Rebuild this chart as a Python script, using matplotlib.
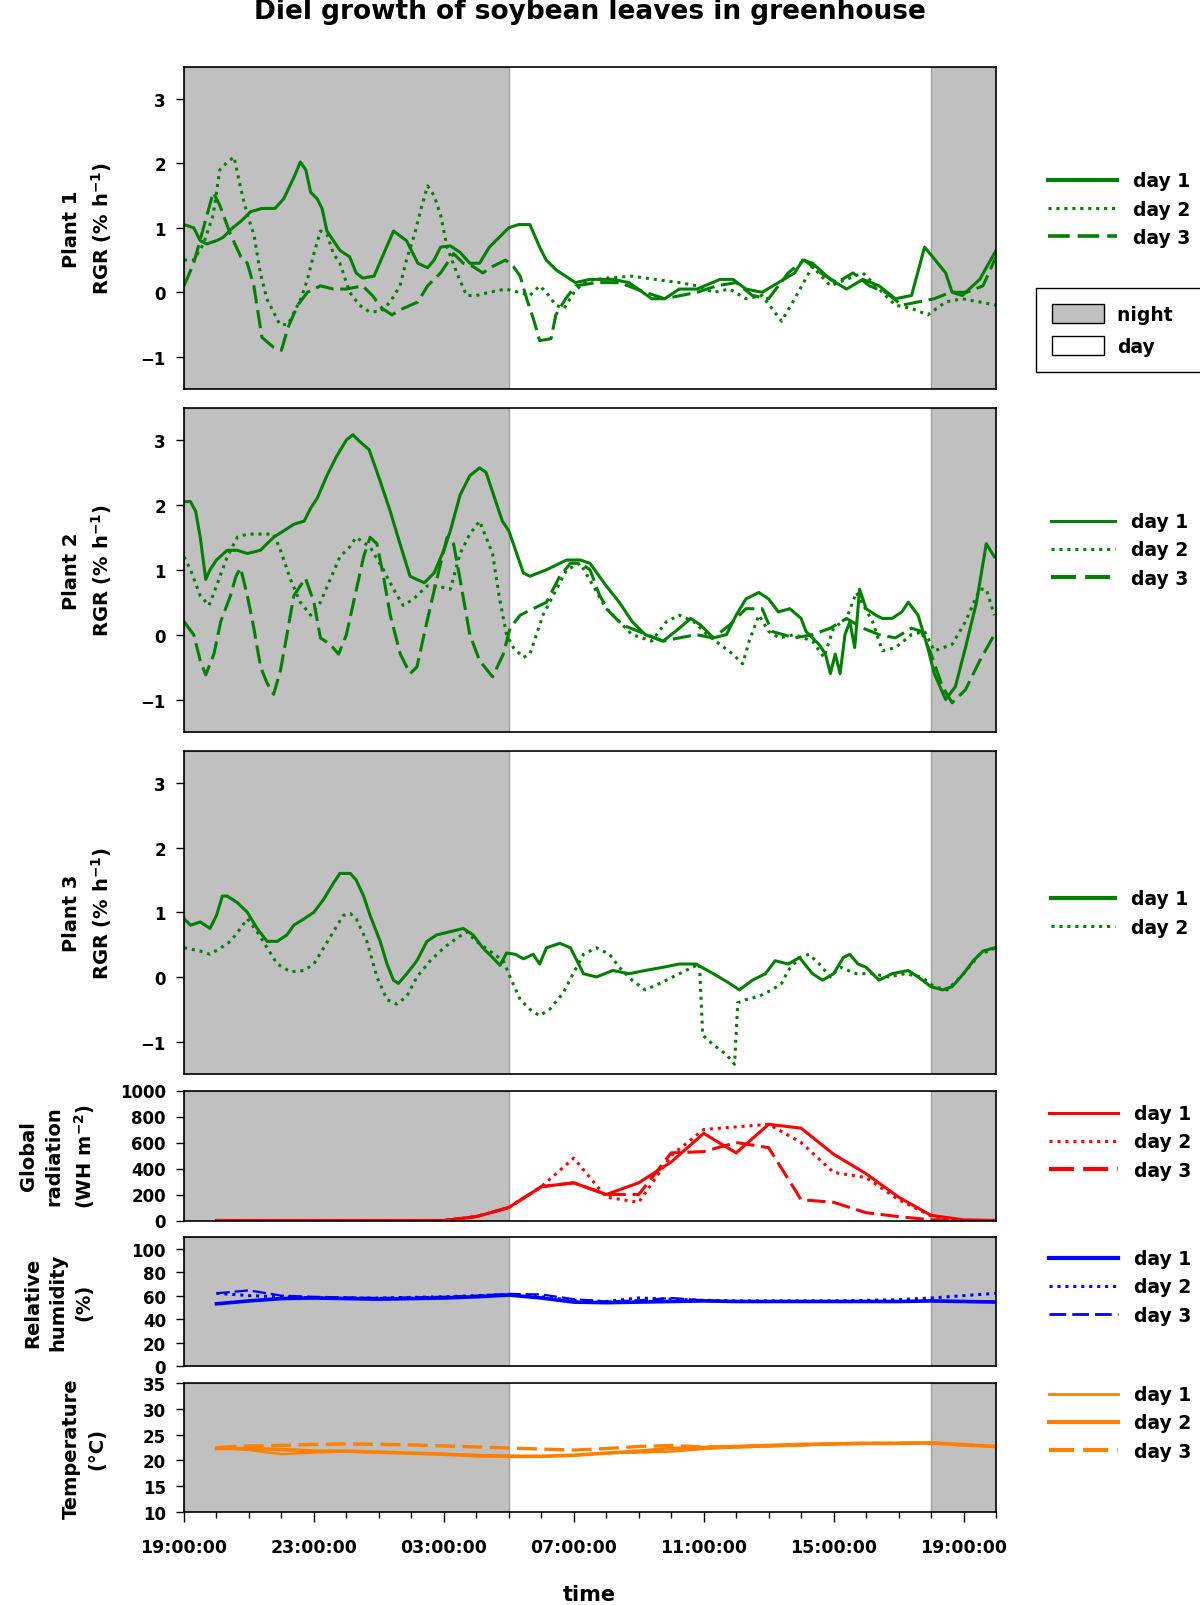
import numpy as np
import matplotlib
matplotlib.use("Agg")
import matplotlib.pyplot as plt
from matplotlib.patches import Patch
from matplotlib.lines import Line2D

# hours after 19:00 of the first evening (0 .. 25 h)
night_spans = [(0, 10), (23, 25)]
tick_hours = [0, 4, 8, 12, 16, 20, 24]
tick_labels = ["19:00:00", "23:00:00", "03:00:00", "07:00:00", "11:00:00", "15:00:00", "19:00:00"]

# ---- RGR, plant 1 : (hour, value)
p1_day1 = [(0, 1.05), (0.3, 1.0), (0.5, 0.8), (0.7, 0.75), (1.0, 0.8), (1.2, 0.85), (1.5, 1.0), (1.75, 1.1),
           (2.05, 1.25), (2.4, 1.3), (2.8, 1.3), (3.07, 1.45), (3.4, 1.8), (3.58, 2.02), (3.75, 1.9), (3.9, 1.55),
           (4.1, 1.45), (4.25, 1.3), (4.4, 0.95), (4.6, 0.8), (4.8, 0.65), (5.1, 0.55), (5.3, 0.3), (5.5, 0.22),
           (5.85, 0.25), (6.15, 0.6), (6.45, 0.95), (6.85, 0.8), (7.2, 0.45), (7.5, 0.38), (7.7, 0.5), (7.9, 0.7),
           (8.2, 0.72), (8.5, 0.62), (8.8, 0.45), (9.1, 0.45), (9.4, 0.7), (9.7, 0.85), (10.0, 1.0), (10.3, 1.05),
           (10.65, 1.05), (10.95, 0.7), (11.15, 0.5), (11.45, 0.35), (11.75, 0.25), (12.05, 0.15), (12.5, 0.2),
           (13.2, 0.2), (13.7, 0.15), (14.4, -0.1), (14.8, -0.1), (15.25, 0.05), (15.8, 0.05), (16.5, 0.2),
           (16.9, 0.2), (17.3, 0.05), (17.8, 0.0), (18.3, 0.15), (18.8, 0.3), (19.05, 0.5), (19.35, 0.45),
           (19.9, 0.2), (20.4, 0.05), (20.9, 0.2), (21.4, 0.1), (21.9, -0.1), (22.4, -0.05), (22.8, 0.7),
           (23.05, 0.55), (23.45, 0.3), (23.65, 0.0), (23.96, -0.05), (24.5, 0.2), (25.0, 0.65)]
p1_day2 = [(0, 0.5), (0.3, 0.5), (0.6, 0.75), (0.9, 1.2), (1.1, 1.9), (1.3, 2.0), (1.54, 2.1), (1.75, 1.6),
           (1.95, 1.2), (2.15, 0.9), (2.35, 0.3), (2.55, -0.1), (2.75, -0.3), (2.95, -0.5), (3.2, -0.5),
           (3.4, -0.3), (3.6, -0.1), (3.8, 0.2), (4.0, 0.6), (4.2, 0.95), (4.4, 0.9), (4.6, 0.6), (4.8, 0.45),
           (5.1, 0.0), (5.4, -0.2), (5.7, -0.3), (6.05, -0.3), (6.35, -0.15), (6.65, 0.1), (6.85, 0.5), (7.1, 0.9),
           (7.3, 1.3), (7.5, 1.65), (7.7, 1.5), (7.9, 1.2), (8.1, 0.7), (8.4, 0.3), (8.7, -0.05), (9.0, -0.05),
           (9.4, 0.0), (9.9, 0.05), (10.3, 0.0), (10.65, -0.05), (10.95, 0.1), (11.15, 0.0), (11.45, -0.2),
           (11.7, -0.25), (12.05, 0.03), (12.4, 0.18), (13.0, 0.22), (13.8, 0.25), (14.5, 0.2), (15.25, 0.15),
           (15.8, 0.1), (16.3, 0.0), (16.8, 0.05), (17.3, -0.1), (17.8, -0.05), (18.4, -0.45), (18.8, -0.1),
           (19.35, 0.4), (19.9, 0.1), (20.4, 0.2), (20.9, 0.3), (21.4, 0.05), (21.9, -0.2), (22.4, -0.25),
           (22.9, -0.35), (23.45, -0.15), (23.96, -0.1), (24.5, -0.15), (25.0, -0.2)]
p1_day3 = [(0, 0.1), (0.3, 0.45), (0.6, 1.0), (0.9, 1.55), (1.1, 1.35), (1.43, 0.9), (1.75, 0.55), (1.95, 0.45),
           (2.15, 0.1), (2.4, -0.7), (2.75, -0.85), (3.0, -0.9), (3.2, -0.55), (3.5, -0.2), (3.8, 0.0), (4.2, 0.1),
           (4.6, 0.05), (5.0, 0.05), (5.5, 0.1), (5.8, -0.05), (6.1, -0.25), (6.4, -0.35), (6.75, -0.25),
           (7.2, -0.15), (7.5, 0.1), (7.9, 0.3), (8.3, 0.6), (8.6, 0.45), (8.9, 0.4), (9.2, 0.3), (9.5, 0.4),
           (9.9, 0.5), (10.14, 0.4), (10.35, 0.25), (10.55, -0.1), (10.75, -0.4), (10.95, -0.75), (11.3, -0.72),
           (11.45, -0.35), (11.75, -0.1), (12.05, 0.1), (12.7, 0.15), (13.4, 0.15), (14.2, 0.0), (14.8, -0.1),
           (15.3, -0.05), (15.8, 0.0), (16.4, 0.1), (17.0, 0.15), (17.5, -0.05), (18.0, -0.1), (18.6, 0.3),
           (19.1, 0.5), (19.6, 0.3), (20.1, 0.15), (20.6, 0.3), (21.1, 0.1), (21.6, 0.0), (22.1, -0.2),
           (22.6, -0.15), (23.1, -0.1), (23.6, 0.0), (24.1, 0.0), (24.6, 0.1), (25.0, 0.55)]

# ---- RGR, plant 2
p2_day1 = [(0, 2.05), (0.2, 2.05), (0.36, 1.9), (0.5, 1.5), (0.67, 0.85), (0.8, 1.0), (1.0, 1.15), (1.33, 1.3),
           (1.64, 1.3), (1.95, 1.25), (2.35, 1.3), (2.76, 1.5), (3.07, 1.6), (3.38, 1.7), (3.7, 1.75), (3.9, 1.95),
           (4.1, 2.1), (4.4, 2.45), (4.7, 2.75), (5.0, 3.0), (5.2, 3.08), (5.4, 2.98), (5.7, 2.85), (6.05, 2.35),
           (6.35, 1.9), (6.65, 1.4), (6.96, 0.9), (7.17, 0.85), (7.4, 0.8), (7.7, 0.95), (8.0, 1.3), (8.2, 1.6),
           (8.5, 2.15), (8.8, 2.45), (9.1, 2.57), (9.3, 2.5), (9.5, 2.2), (9.8, 1.75), (10.0, 1.6), (10.14, 1.4),
           (10.45, 0.95), (10.65, 0.9), (11.16, 1.0), (11.78, 1.15), (12.2, 1.15), (12.5, 1.1), (13.0, 0.75),
           (13.4, 0.5), (13.8, 0.2), (14.2, 0.0), (14.75, -0.1), (15.25, 0.1), (15.6, 0.25), (15.9, 0.15),
           (16.3, -0.05), (16.7, 0.0), (17.0, 0.3), (17.3, 0.55), (17.7, 0.65), (18.0, 0.55), (18.3, 0.35),
           (18.65, 0.4), (19.0, 0.25), (19.15, 0.05), (19.35, -0.05), (19.55, -0.15), (19.75, -0.3), (19.9, -0.6),
           (20.05, -0.3), (20.2, -0.6), (20.35, 0.0), (20.5, 0.2), (20.65, -0.2), (20.8, 0.7), (21.0, 0.4),
           (21.3, 0.3), (21.5, 0.25), (21.8, 0.25), (22.1, 0.35), (22.3, 0.5), (22.6, 0.3), (22.9, -0.2),
           (23.1, -0.6), (23.45, -1.0), (23.75, -0.8), (24.06, -0.2), (24.4, 0.5), (24.7, 1.4), (24.95, 1.2)]
p2_day2 = [(0, 1.2), (0.2, 1.0), (0.5, 0.6), (0.77, 0.45), (1.0, 0.75), (1.33, 1.2), (1.64, 1.5), (1.95, 1.55),
           (2.25, 1.55), (2.76, 1.55), (2.97, 1.3), (3.28, 0.85), (3.58, 0.5), (3.9, 0.3), (4.2, 0.5), (4.5, 0.85),
           (4.8, 1.2), (5.1, 1.35), (5.3, 1.5), (5.73, 1.35), (6.14, 1.0), (6.45, 0.7), (6.75, 0.45), (7.07, 0.55),
           (7.48, 0.75), (7.78, 0.75), (8.2, 0.7), (8.5, 1.25), (8.8, 1.55), (9.1, 1.75), (9.5, 1.25), (9.7, 0.6),
           (9.93, 0.0), (10.14, -0.2), (10.45, -0.35), (10.65, -0.3), (10.85, 0.0), (11.05, 0.3), (11.26, 0.5),
           (11.57, 0.8), (11.78, 1.0), (12.2, 1.1), (12.6, 0.75), (13.0, 0.4), (13.4, 0.2), (13.8, 0.0),
           (14.4, -0.1), (14.85, 0.2), (15.25, 0.3), (15.7, 0.2), (16.1, 0.0), (16.5, -0.15), (16.9, -0.3),
           (17.2, -0.45), (17.4, -0.1), (17.7, 0.3), (18.0, 0.05), (18.33, -0.05), (18.8, 0.0), (19.35, -0.1),
           (19.7, -0.35), (20.0, 0.1), (20.4, 0.25), (20.7, 0.65), (21.2, 0.2), (21.5, -0.25), (21.9, -0.2),
           (22.4, 0.0), (22.8, 0.05), (23.1, -0.25), (23.65, -0.15), (24.06, 0.2), (24.5, 0.7), (24.7, 0.7),
           (24.95, 0.3)]
p2_day3 = [(0, 0.2), (0.3, 0.0), (0.5, -0.4), (0.67, -0.62), (0.92, -0.3), (1.13, 0.2), (1.43, 0.6), (1.6, 0.9),
           (1.74, 1.03), (1.95, 0.6), (2.15, 0.1), (2.36, -0.5), (2.56, -0.75), (2.76, -0.92), (2.97, -0.55),
           (3.17, 0.0), (3.38, 0.6), (3.58, 0.75), (3.74, 0.87), (4.0, 0.5), (4.2, -0.05), (4.5, -0.15),
           (4.76, -0.3), (5.0, 0.0), (5.22, 0.5), (5.53, 1.2), (5.73, 1.5), (5.94, 1.4), (6.14, 0.9), (6.35, 0.3),
           (6.66, -0.3), (6.96, -0.6), (7.17, -0.5), (7.48, 0.2), (7.78, 0.85), (8.1, 1.5), (8.3, 1.4), (8.5, 0.85),
           (8.8, 0.0), (9.1, -0.4), (9.5, -0.65), (9.83, -0.3), (10.04, 0.1), (10.35, 0.3), (10.75, 0.4),
           (11.16, 0.5), (11.57, 0.9), (11.9, 1.1), (12.2, 1.1), (12.5, 1.0), (12.8, 0.6), (13.1, 0.35),
           (13.5, 0.15), (14.0, 0.05), (14.75, -0.1), (15.25, -0.05), (15.76, 0.0), (16.3, -0.05), (16.8, 0.15),
           (17.3, 0.4), (17.8, 0.4), (18.1, 0.05), (18.8, -0.05), (19.35, 0.0), (19.9, 0.1), (20.4, 0.25),
           (20.9, 0.1), (21.4, 0.0), (21.9, -0.05), (22.4, 0.1), (22.7, 0.05), (23.0, -0.3), (23.35, -0.8),
           (23.65, -1.05), (24.06, -0.85), (24.5, -0.4), (24.95, 0.0)]

# ---- RGR, plant 3
p3_day1 = [(0, 0.9), (0.2, 0.8), (0.5, 0.85), (0.8, 0.75), (1.0, 0.95), (1.18, 1.25), (1.33, 1.25), (1.64, 1.15),
           (1.95, 1.0), (2.25, 0.75), (2.56, 0.55), (2.87, 0.55), (3.17, 0.65), (3.38, 0.8), (3.7, 0.9), (4.0, 1.0),
           (4.3, 1.2), (4.6, 1.45), (4.8, 1.6), (5.12, 1.6), (5.3, 1.5), (5.53, 1.25), (5.73, 0.95), (6.04, 0.55),
           (6.25, 0.2), (6.45, -0.05), (6.6, -0.1), (6.86, 0.05), (7.17, 0.25), (7.48, 0.55), (7.78, 0.65),
           (8.2, 0.7), (8.6, 0.75), (8.9, 0.65), (9.2, 0.45), (9.5, 0.3), (9.73, 0.18), (9.93, 0.37), (10.2, 0.35),
           (10.45, 0.28), (10.75, 0.35), (10.95, 0.2), (11.16, 0.45), (11.57, 0.52), (11.9, 0.45), (12.1, 0.25),
           (12.3, 0.05), (12.7, 0.0), (13.2, 0.1), (13.7, 0.05), (14.2, 0.1), (14.75, 0.15), (15.25, 0.2),
           (15.76, 0.2), (16.3, 0.05), (16.8, -0.1), (17.1, -0.2), (17.5, -0.05), (17.9, 0.05), (18.2, 0.25),
           (18.6, 0.2), (18.95, 0.3), (19.35, 0.05), (19.66, -0.05), (20.0, 0.05), (20.3, 0.3), (20.5, 0.35),
           (20.75, 0.2), (21.0, 0.15), (21.4, -0.05), (21.8, 0.05), (22.3, 0.1), (22.6, 0.0), (23.0, -0.15),
           (23.35, -0.2), (23.65, -0.15), (24.0, 0.05), (24.3, 0.25), (24.6, 0.4), (24.95, 0.45)]
p3_day2 = [(0, 0.45), (0.5, 0.4), (0.8, 0.35), (1.13, 0.45), (1.43, 0.55), (1.74, 0.75), (1.95, 0.9), (2.25, 0.7),
           (2.56, 0.45), (2.87, 0.2), (3.28, 0.08), (3.7, 0.1), (4.0, 0.2), (4.3, 0.45), (4.6, 0.7), (4.9, 0.95),
           (5.12, 0.98), (5.3, 0.9), (5.63, 0.55), (5.94, 0.0), (6.25, -0.35), (6.55, -0.42), (6.86, -0.3),
           (7.17, 0.0), (7.58, 0.25), (8.0, 0.45), (8.4, 0.6), (8.7, 0.7), (9.0, 0.55), (9.42, 0.4), (9.83, 0.25),
           (10.04, 0.0), (10.35, -0.35), (10.65, -0.5), (10.95, -0.6), (11.26, -0.5), (11.67, -0.25), (11.98, 0.05),
           (12.3, 0.35), (12.7, 0.45), (13.1, 0.35), (13.4, 0.15), (13.8, -0.05), (14.2, -0.2), (14.65, -0.1),
           (15.05, 0.0), (15.45, 0.1), (15.87, 0.2), (15.97, -0.9), (16.3, -1.05), (16.7, -1.2), (16.95, -1.35),
           (17.05, -0.4), (17.3, -0.35), (17.7, -0.3), (18.1, -0.2), (18.4, -0.1), (18.6, 0.1), (18.95, 0.3),
           (19.25, 0.35), (19.56, 0.2), (19.9, 0.0), (20.2, 0.15), (20.7, 0.05), (21.2, 0.05), (21.7, 0.0),
           (22.2, 0.05), (22.7, 0.0), (23.1, -0.15), (23.5, -0.2), (24.0, 0.05), (24.5, 0.35), (25.0, 0.45)]

# ---- climate, hourly values from 20:00 (h = 1) to 20:00 (h = 25)
clim_hours = list(range(1, 26))
rad_day1 = [0, 0, 0, 0, 0, 0, 0, 0, 30, 100, 260, 290, 200, 290, 450, 670, 520, 740, 710, 510, 360, 180, 40, 5, 0]
rad_day2 = [0, 0, 0, 0, 0, 0, 0, 0, 30, 100, 260, 480, 180, 140, 500, 700, 720, 740, 600, 370, 330, 160, 35, 0, 0]
rad_day3 = [0, 0, 0, 0, 0, 0, 0, 0, 30, 100, 260, 290, 200, 200, 520, 530, 600, 560, 160, 140, 60, 30, 5, 0, 0]

rh_day1 = [53, 55.5, 57.5, 58, 57.5, 57, 57.5, 58, 59, 60.5, 58, 54.5, 54, 54.5, 55, 55.5, 55, 55, 55, 55, 55,
           55, 55.5, 55, 54.5]
rh_day2 = [62, 60, 59, 58, 58, 58, 58.5, 59, 60, 61, 59, 56, 55, 58, 57, 56, 55.5, 55.5, 55.5, 55.5, 56, 56.5,
           58, 60, 62]
rh_day3 = [62, 64.5, 60, 59, 58.5, 58, 58.5, 59, 60, 61.5, 61, 57, 55, 56, 58, 56, 55, 55, 55, 55, 55, 55,
           55.5, 55, 55]

temp_day1 = [22.5, 22.0, 21.2, 21.5, 21.7, 21.5, 21.4, 21.2, 21.1, 20.9, 20.7, 21.0, 21.4, 21.5, 21.7, 22.2,
             22.5, 22.7, 22.9, 23.1, 23.3, 23.4, 23.3, 23.2, 22.6]
temp_day2 = [22.3, 22.3, 22.1, 21.8, 21.8, 21.6, 21.4, 21.2, 20.9, 20.8, 20.8, 21.0, 21.4, 21.8, 22.3, 22.5,
             22.7, 22.9, 23.1, 23.2, 23.3, 23.3, 23.4, 23.0, 22.7]
temp_day3 = [22.5, 22.8, 22.9, 23.1, 23.2, 23.1, 23.0, 22.8, 22.6, 22.4, 22.2, 22.0, 22.3, 22.7, 22.9, 22.6,
             22.6, 22.8, 23.0, 23.2, 23.3, 23.3, 23.4, 23.0, 22.7]

GREEN, RED, BLUE, ORANGE = "#008000", "#ff0000", "#0000ff", "#ff8000"
NIGHT = "#c0c0c0"
SOLID = "-"
DOT = (0, (1, 1.6))
DASH = (0, (6, 2.2))

plt.rcParams["font.family"] = "DejaVu Sans"
plt.rcParams["font.weight"] = "bold"

W, H = 1200, 1606
fig = plt.figure(figsize=(W / 100, H / 100), dpi=100)

# panel top / bottom in pixels
panel_px = [(67.6, 390), (408.5, 733), (751.5, 1075), (1091.5, 1221.5), (1238, 1367), (1384, 1513)]
ax_left, ax_right = 184, 996

axes = []
for top, bot in panel_px:
    ax = fig.add_axes([ax_left / W, 1 - bot / H, (ax_right - ax_left) / W, (bot - top) / H])
    for a, b in night_spans:
        ax.axvspan(a, b, facecolor=NIGHT, edgecolor="#a0a0a0", lw=1, zorder=0)
    ax.set_xlim(0, 25)
    for s in ax.spines.values():
        s.set_linewidth(1.2)
    ax.tick_params(axis="y", direction="out", length=6, width=1, labelsize=12, pad=7)
    ax.tick_params(axis="x", which="both", bottom=False, labelbottom=False)
    axes.append(ax)


def draw(ax, pairs, color, ls, lw=2.2):
    a = np.array(pairs)
    ax.plot(a[:, 0], a[:, 1], color=color, linestyle=ls, lw=lw)


draw(axes[0], p1_day2, GREEN, DOT)
draw(axes[0], p1_day3, GREEN, DASH)
draw(axes[0], p1_day1, GREEN, SOLID)
draw(axes[1], p2_day2, GREEN, DOT)
draw(axes[1], p2_day3, GREEN, DASH)
draw(axes[1], p2_day1, GREEN, SOLID)
draw(axes[2], p3_day2, GREEN, DOT)
draw(axes[2], p3_day1, GREEN, SOLID)
for ax in axes[:3]:
    ax.set_ylim(-1.5, 3.5)
    ax.set_yticks([-1, 0, 1, 2, 3])

ax = axes[3]
ax.plot(clim_hours, rad_day1, color=RED, ls=SOLID, lw=2.2)
ax.plot(clim_hours, rad_day2, color=RED, ls=DOT, lw=2.2)
ax.plot(clim_hours, rad_day3, color=RED, ls=DASH, lw=2.2)
ax.set_ylim(0, 1000)
ax.set_yticks(range(0, 1001, 200))

ax = axes[4]
ax.plot(clim_hours, rh_day1, color=BLUE, ls=SOLID, lw=2.6)
ax.plot(clim_hours, rh_day2, color=BLUE, ls=DOT, lw=2.2)
ax.plot(clim_hours, rh_day3, color=BLUE, ls=DASH, lw=1.6)
ax.set_ylim(0, 110)
ax.set_yticks(range(0, 101, 20))

ax = axes[5]
ax.plot(clim_hours, temp_day1, color=ORANGE, ls=SOLID, lw=1.6)
ax.plot(clim_hours, temp_day2, color=ORANGE, ls=SOLID, lw=2.6)
ax.plot(clim_hours, temp_day3, color=ORANGE, ls=DASH, lw=2.4)
ax.set_ylim(10, 35)
ax.set_yticks(range(10, 36, 5))
ax.tick_params(axis="x", which="both", bottom=True, labelbottom=True, direction="out")
ax.set_xticks(tick_hours)
ax.set_xticklabels(tick_labels)
ax.set_xticks(range(0, 26), minor=True)
ax.tick_params(axis="x", which="major", length=7, width=1, labelsize=12.5, pad=12)
ax.tick_params(axis="x", which="minor", length=4, width=1)

# titles and labels
fig.text(590 / W, 1 - 12 / H, "Diel growth of soybean leaves in greenhouse", ha="center", va="center",
         fontsize=19, fontweight="bold")
fig.text(589 / W, 1 - 1595 / H, "time", ha="center", va="center", fontsize=15, fontweight="bold")

ylabels = [("Plant 1\nRGR (% h$^{\\mathbf{-1}}$)", 88),
           ("Plant 2\nRGR (% h$^{\\mathbf{-1}}$)", 88),
           ("Plant 3\nRGR (% h$^{\\mathbf{-1}}$)", 88),
           ("Global\nradiation\n(WH m$^{\\mathbf{-2}}$)", 58),
           ("Relative\nhumidity\n(%)", 58),
           ("Temperature\n(°C)", 84)]
for (txt, xc), (top, bot) in zip(ylabels, panel_px):
    fig.text(xc / W, 1 - (top + bot) / 2 / H, txt, rotation=90, ha="center", va="center",
             multialignment="center", fontsize=14, fontweight="bold", linespacing=1.45)


def day_legend(color, styles, x_px, yc_px, lws=None, hl=3.7):
    handles = []
    for i, ls in enumerate(styles):
        lw = lws[i] if lws else 2.6
        handles.append(Line2D([], [], color=color, linestyle=ls, lw=lw))
    labels = ["day %d" % (i + 1) for i in range(len(styles))]
    fig.legend(handles, labels, loc="center left", bbox_to_anchor=(x_px / W, 1 - yc_px / H),
               frameon=False, fontsize=13.5, handlelength=hl, handletextpad=0.85, labelspacing=0.5,
               borderpad=0, borderaxespad=0)


day_legend(GREEN, [SOLID, DOT, DASH], 1048, 210, lws=[3, 2.2, 2.6])
day_legend(GREEN, [SOLID, DOT, DASH], 1051, 551, lws=[2.2, 2.2, 3], hl=3.4)
day_legend(GREEN, [SOLID, DOT], 1051, 914, lws=[3, 2.2], hl=3.4)
day_legend(RED, [SOLID, DOT, DASH], 1049, 1143, lws=[2.2, 2.2, 3])
day_legend(BLUE, [SOLID, DOT, DASH], 1049, 1288, lws=[3, 2.2, 2])
day_legend(ORANGE, [SOLID, SOLID, DASH], 1049, 1424, lws=[2, 3, 3])

nd = fig.legend([Patch(facecolor=NIGHT, edgecolor="black", lw=1), Patch(facecolor="white", edgecolor="black", lw=1)],
                ["night  ", "day"], loc="center left", bbox_to_anchor=(1036 / W, 1 - 331 / H),
                fontsize=13.5, handlelength=2.8, handleheight=1.15, handletextpad=0.65, labelspacing=0.65,
                borderpad=0.85, borderaxespad=0, fancybox=False, framealpha=1, edgecolor="black")
nd.get_frame().set_linewidth(1)

fig.savefig("out.png", dpi=100)
